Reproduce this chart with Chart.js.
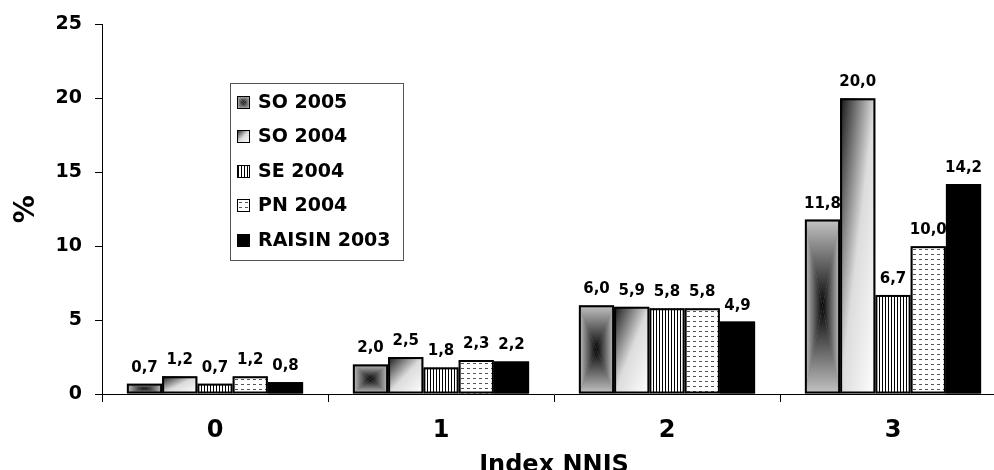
<!DOCTYPE html>
<html>
<head>
<meta charset="utf-8">
<script src="https://cdn.jsdelivr.net/npm/chart.js@4.4.1/dist/chart.umd.min.js"></script>
<style>
  html, body { margin: 0; padding: 0; background: #fff; overflow: hidden; }
  #wrap { width: 994px; height: 470px; overflow: hidden; }
</style>
</head>
<body>
<div id="wrap"><canvas id="myChart" width="1006" height="480"></canvas></div>
<script>
const categories = ['0', '1', '2', '3'];
const so2005 = [0.7, 2.0, 6.0, 11.8];
const so2004 = [1.2, 2.5, 5.9, 20.0];
const se2004 = [0.7, 1.8, 5.8, 6.7];
const pn2004 = [1.2, 2.3, 5.8, 10.0];
const raisin2003 = [0.8, 2.2, 4.9, 14.2];
const seriesNames = ['SO 2005', 'SO 2004', 'SE 2004', 'PN 2004', 'RAISIN 2003'];
const yTicks = [0, 5, 10, 15, 20, 25];

const FONT = "'DejaVu Sans', sans-serif";

// fill painters, one per series
function paintBox(ctx, x, y, w, h) {
    const cx = x + w / 2, cy = y + h / 2;
    const edge = '#c4c4c4', mid = '#050505';
    const tri = (pts, g) => {
        ctx.beginPath();
        ctx.moveTo(pts[0], pts[1]);
        ctx.lineTo(pts[2], pts[3]);
        ctx.lineTo(pts[4], pts[5]);
        ctx.closePath();
        ctx.fillStyle = g;
        ctx.fill();
    };
    let g = ctx.createLinearGradient(0, y, 0, cy);
    g.addColorStop(0, edge); g.addColorStop(1, mid);
    tri([x, y, x + w, y, cx, cy], g);
    g = ctx.createLinearGradient(0, y + h, 0, cy);
    g.addColorStop(0, edge); g.addColorStop(1, mid);
    tri([x, y + h, x + w, y + h, cx, cy], g);
    g = ctx.createLinearGradient(x, 0, cx, 0);
    g.addColorStop(0, edge); g.addColorStop(1, mid);
    tri([x, y, x, y + h, cx, cy], g);
    g = ctx.createLinearGradient(x + w, 0, cx, 0);
    g.addColorStop(0, edge); g.addColorStop(1, mid);
    tri([x + w, y, x + w, y + h, cx, cy], g);
}

function paintDiag(ctx, x, y, w, h) {
    const k = 2 * w * h / (w * w + h * h);
    const g = ctx.createLinearGradient(x, y, x + h * k, y + w * k);
    g.addColorStop(0, '#151515');
    g.addColorStop(0.5, '#dcdcdc');
    g.addColorStop(1, '#ffffff');
    ctx.fillStyle = g;
    ctx.fillRect(x, y, w, h);
}

function paintLines(ctx, x, y, w, h) {
    ctx.fillStyle = '#fff';
    ctx.fillRect(x, y, w, h);
    ctx.fillStyle = '#000';
    for (let px = Math.round(x) + 1; px < x + w; px += 3) {
        ctx.fillRect(px, y, 1, h);
    }
}

function paintDashes(ctx, x, y, w, h) {
    ctx.fillStyle = '#fff';
    ctx.fillRect(x, y, w, h);
    ctx.fillStyle = '#555';
    for (let py = Math.round(y) + 3; py < y + h; py += 5) {
        for (let px = Math.round(x) + 2; px < x + w; px += 6) {
            ctx.fillRect(px, py, 3, 1);
        }
    }
}

function paintSolid(ctx, x, y, w, h) {
    ctx.fillStyle = '#000';
    ctx.fillRect(x, y, w, h);
}

const painters = [paintBox, paintDiag, paintLines, paintDashes, paintSolid];

function paintRect(ctx, i, x, y, w, h, lw) {
    ctx.save();
    ctx.beginPath();
    ctx.rect(x, y, w, h);
    ctx.clip();
    painters[i](ctx, x, y, w, h);
    ctx.restore();
    ctx.save();
    ctx.strokeStyle = '#000';
    ctx.lineWidth = lw;
    ctx.strokeRect(x + lw / 2, y + lw / 2, w - lw, h - lw);
    ctx.restore();
}

// repaint bars series by series so later bars cover earlier labels
const barPainter = {
    id: 'barPainter',
    afterDatasetsDraw(chart) {
        const ctx = chart.ctx;
        chart.data.datasets.forEach((ds, i) => {
            const meta = chart.getDatasetMeta(i);
            meta.data.forEach(el => {
                const p = el.getProps(['x', 'y', 'base', 'width'], true);
                const left = p.x - p.width / 2;
                const top = Math.min(p.y, p.base);
                const h = Math.abs(p.base - p.y);
                paintRect(ctx, i, left, top, p.width, h, 2);
            });
            ctx.save();
            ctx.fillStyle = '#000';
            ctx.font = 'bold 15px ' + FONT;
            ctx.textAlign = 'center';
            ctx.textBaseline = 'alphabetic';
            meta.data.forEach((el, j) => {
                const p = el.getProps(['x', 'y'], true);
                const txt = ds.data[j].toFixed(1).replace('.', ',');
                ctx.fillText(txt, p.x, p.y - 12);
            });
            ctx.restore();
        });
    }
};

const boxLegend = {
    id: 'boxLegend',
    afterDraw(chart) {
        const ctx = chart.ctx;
        ctx.save();
        ctx.fillStyle = '#fff';
        ctx.fillRect(230, 83, 173, 177);
        ctx.strokeStyle = '#555';
        ctx.lineWidth = 1;
        ctx.strokeRect(230.5, 83.5, 173, 177);
        seriesNames.forEach((name, i) => {
            const cy = 102 + i * 34.5;
            paintRect(ctx, i, 237, Math.round(cy - 6.5), 13, 13, 1);
            ctx.fillStyle = '#000';
            ctx.font = 'bold 19px ' + FONT;
            ctx.textAlign = 'left';
            ctx.textBaseline = 'middle';
            ctx.fillText(name, 258, cy + 1);
        });
        ctx.restore();
    }
};

const seriesValues = [so2005, so2004, se2004, pn2004, raisin2003];
const solidColors = ['#888', '#bbb', '#fff', '#fff', '#000'];

const ctx = document.getElementById('myChart');

new Chart(ctx, {
    type: 'bar',
    data: {
        labels: categories,
        datasets: seriesNames.map((name, i) => ({
            label: name,
            data: seriesValues[i],
            backgroundColor: solidColors[i],
            borderColor: '#000',
            borderWidth: 2,
            categoryPercentage: 0.78,
            barPercentage: 1.0
        }))
    },
    options: {
        responsive: false,
        animation: false,
        devicePixelRatio: 1,
        layout: { padding: { top: 23, right: 0, left: 0, bottom: 0 } },
        plugins: {
            legend: { display: false },
            tooltip: { enabled: false }
        },
        scales: {
            x: {
                grid: {
                    drawOnChartArea: false,
                    tickLength: 8,
                    color: '#000',
                    offset: true
                },
                border: { color: '#000', width: 1 },
                ticks: {
                    color: '#000',
                    font: { family: FONT, size: 24, weight: 'bold' },
                    padding: 14
                },
                title: {
                    display: true,
                    text: 'Index NNIS',
                    color: '#000',
                    font: { family: FONT, size: 24, weight: 'bold' },
                    padding: { top: 0, bottom: 0 }
                },
                afterFit(scale) { scale.height = 86; }
            },
            y: {
                min: 0,
                max: 25,
                afterBuildTicks(scale) {
                    scale.ticks = yTicks.map(v => ({ value: v }));
                },
                grid: {
                    drawOnChartArea: false,
                    tickLength: 7,
                    color: '#000'
                },
                border: { color: '#000', width: 1 },
                ticks: {
                    color: '#000',
                    font: { family: FONT, size: 19, weight: 'bold' },
                    padding: 13
                },
                title: {
                    display: true,
                    text: '%',
                    color: '#000',
                    font: { family: FONT, size: 28, weight: 'bold' },
                    padding: { top: 10, bottom: 0 }
                },
                afterFit(scale) { scale.width = 102; }
            }
        }
    },
    plugins: [barPainter, boxLegend]
});
</script>
</body>
</html>
